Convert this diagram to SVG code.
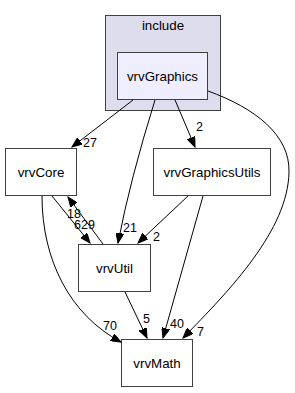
<svg xmlns="http://www.w3.org/2000/svg" width="295" height="393" viewBox="0 0 295 393">
<style>
text{font-family:"Liberation Sans",Arial,sans-serif;font-size:13.33px;fill:#000}
.n{fill:#fff;stroke:#404040;stroke-width:1}
.e{fill:none;stroke:#000;stroke-width:1;marker-end:url(#ah)}
.c{text-anchor:middle}
.l{font-size:12.5px}
</style>
<defs>
<marker id="ah" markerUnits="userSpaceOnUse" markerWidth="11" markerHeight="8" refX="10" refY="4" orient="auto">
<path d="M0,0 L10,4 L0,8 z" fill="#000" stroke="#000" stroke-width="1"/>
</marker>
</defs>
<rect width="295" height="393" fill="#fff"/>
<g id="cluster_include">
<rect x="105.5" y="15.5" width="115" height="95" fill="#ddddee" stroke="#404040"/>
<text class="c" x="163" y="30">include</text>
</g>
<g id="vrvGraphics">
<rect x="117.5" y="52.5" width="90" height="47" fill="#eeeeff" stroke="#404040"/>
<text class="c" x="162.5" y="80.5">vrvGraphics</text>
</g>
<g id="vrvCore">
<rect class="n" x="5.5" y="148.5" width="71" height="47"/>
<text class="c" x="41" y="176.5">vrvCore</text>
</g>
<g id="vrvGraphicsUtils">
<rect class="n" x="153.5" y="148.5" width="117" height="47"/>
<text class="c" x="212" y="176.5">vrvGraphicsUtils</text>
</g>
<g id="vrvUtil">
<rect class="n" x="78.5" y="244.5" width="72" height="47"/>
<text class="c" x="114.5" y="272.5">vrvUtil</text>
</g>
<g id="vrvMath">
<rect class="n" x="121.5" y="339.5" width="71" height="47"/>
<text class="c" x="157" y="367.5">vrvMath</text>
</g>
<g id="edges">
<path class="e" d="M133,100 L72,147"/>
<text class="l" x="83" y="147">27</text>
<path class="e" d="M155,100 Q130,180 118,243"/>
<text class="l" x="123" y="232">21</text>
<path class="e" d="M175,100 L195,147"/>
<text class="l" x="196" y="131">2</text>
<path class="e" d="M208,91 C255,108 290,135 289,172 C288,230 230,290 183,338"/>
<text class="l" x="197" y="336">7</text>
<path class="e" d="M52,196 L90,243"/>
<text class="l" x="74" y="229">629</text>
<path class="e" d="M103,244 L68,197"/>
<text class="l" x="67" y="218">18</text>
<path class="e" d="M42,196 C42,260 70,315 121,342"/>
<text class="l" x="103" y="330">70</text>
<path class="e" d="M188,196 L138,243"/>
<text class="l" x="153" y="241">2</text>
<path class="e" d="M203,196 L163,338"/>
<text class="l" x="170" y="328">40</text>
<path class="e" d="M125,292 L147,338"/>
<text class="l" x="143" y="323">5</text>
</g>
</svg>
